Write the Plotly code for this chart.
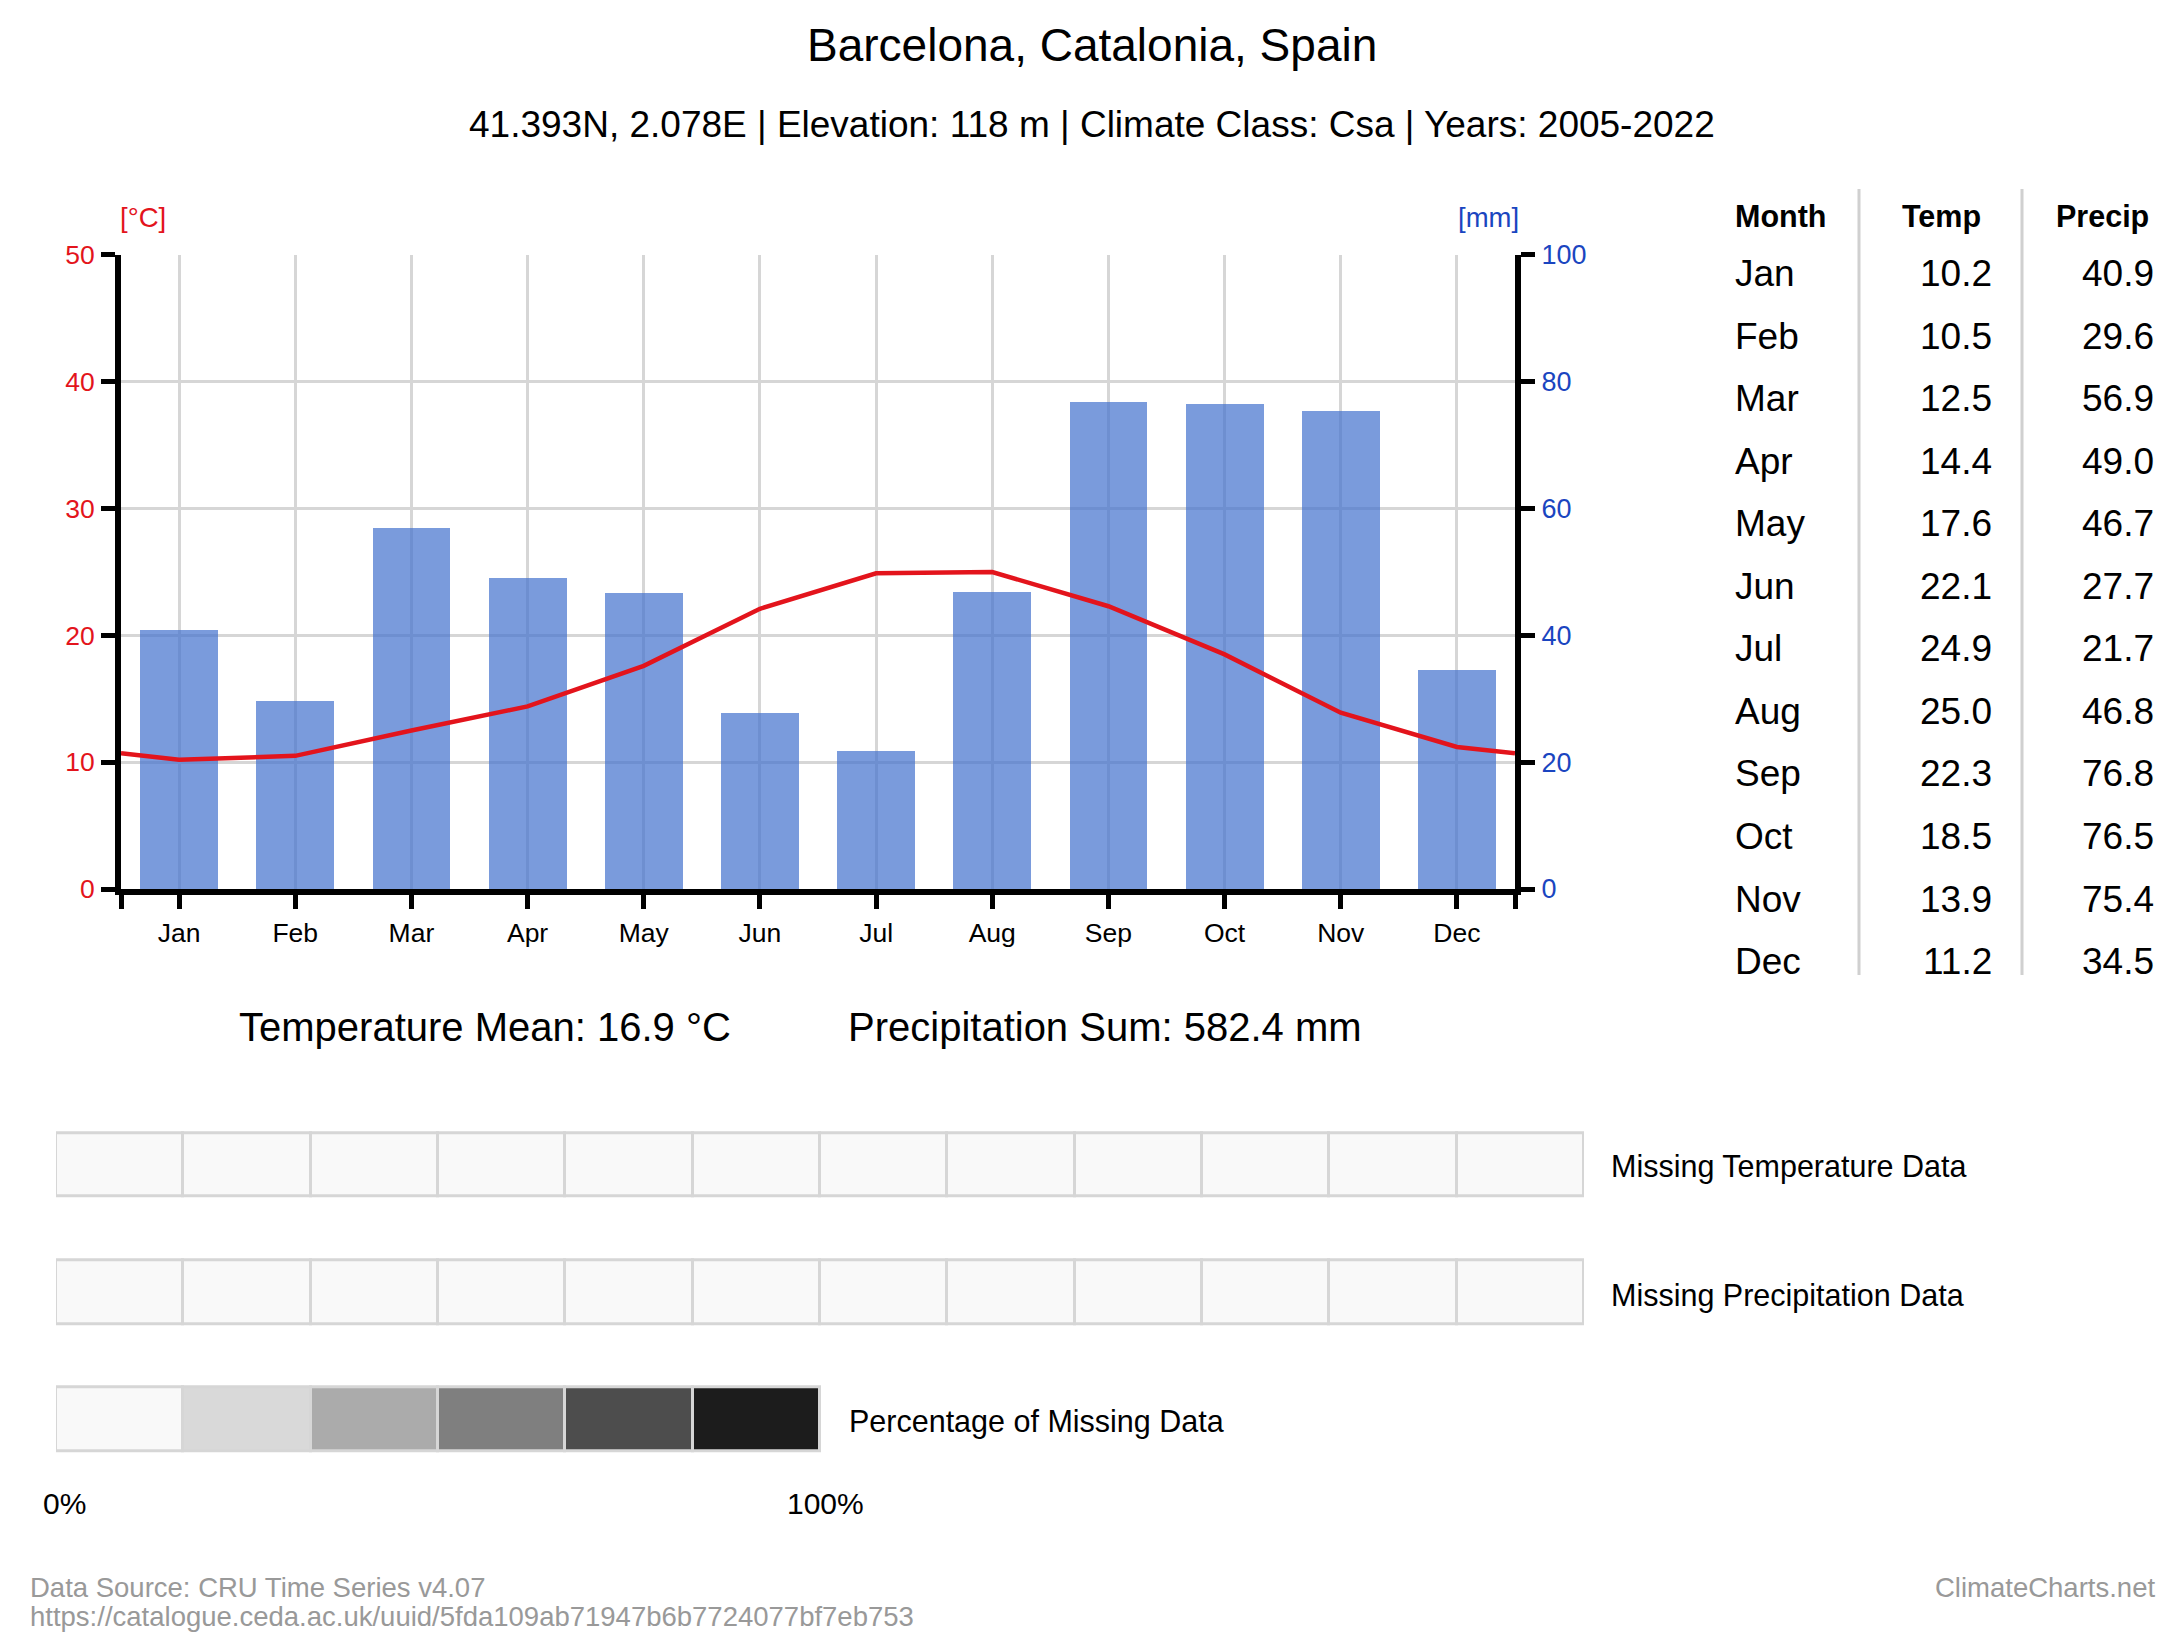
import plotly.graph_objects as go

# size of the page; the browser adds an 8px body margin round the figure
W, H = 2184, 1643
PAD = 8
FW, FH = W - 2 * PAD, H - 2 * PAD
# the photographed page comes out slightly squeezed vertically, undo that
Y0, YS = 57.1, 0.983

months = ['Jan', 'Feb', 'Mar', 'Apr', 'May', 'Jun', 'Jul', 'Aug', 'Sep', 'Oct', 'Nov', 'Dec']
temp = [10.2, 10.5, 12.5, 14.4, 17.6, 22.1, 24.9, 25.0, 22.3, 18.5, 13.9, 11.2]
precip = [40.9, 29.6, 56.9, 49.0, 46.7, 27.7, 21.7, 46.8, 76.8, 76.5, 75.4, 34.5]

missing_temp = [0, 0, 0, 0, 0, 0, 0, 0, 0, 0, 0, 0]
missing_precip = [0, 0, 0, 0, 0, 0, 0, 0, 0, 0, 0, 0]
missing_levels = [0, 20, 40, 60, 80, 100]
missing_colors = ['#f9f9f9', '#d9d9d9', '#ababab', '#7f7f7f', '#4d4d4d', '#1c1c1c']

temp_ticks = [0, 10, 20, 30, 40, 50]
precip_ticks = [0, 20, 40, 60, 80, 100]

title = 'Barcelona, Catalonia, Spain'
subtitle = '41.393N, 2.078E | Elevation: 118 m | Climate Class: Csa | Years: 2005-2022'
temp_mean_text = 'Temperature Mean: 16.9 °C'
precip_sum_text = 'Precipitation Sum: 582.4 mm'

FONT = 'Arial, Liberation Sans, sans-serif'
RED = '#e3141c'
BLUE = '#1a45c0'
GRID = '#d6d6d6'


def px(x):
    return (x - PAD) / FW


def py(y):
    s = 44 + (y - Y0) / YS
    return 1 - (s - PAD) / FH


def shade(p):
    # grey level for a missing-data percentage
    for lvl, col in zip(missing_levels, missing_colors):
        if p <= lvl:
            return col
    return missing_colors[-1]


fig = go.Figure()

# precipitation bars (right axis)
fig.add_trace(go.Bar(
    x=list(range(12)), y=precip, width=0.67,
    marker=dict(color='rgba(65,112,205,0.7)', line=dict(width=0)),
    xaxis='x', yaxis='y', showlegend=False))

# temperature line (left axis), wrapped to the plot edges
edge = (temp[0] + temp[-1]) / 2
fig.add_trace(go.Scatter(
    x=[-0.5] + list(range(12)) + [11.5], y=[edge] + temp + [edge],
    mode='lines', line=dict(color=RED, width=4.5),
    xaxis='x', yaxis='y3', showlegend=False))

# missing data cells
row_h = 0.5
for r, vals in enumerate([missing_temp, missing_precip]):
    fig.add_trace(go.Bar(
        x=[i + 0.5 for i in range(len(vals))], y=[row_h] * len(vals),
        base=[r - row_h / 2] * len(vals), width=1,
        marker=dict(color=[shade(v) for v in vals], line=dict(color=GRID, width=3)),
        xaxis='x2', yaxis='y2', showlegend=False))
fig.add_trace(go.Bar(
    x=[i + 0.5 for i in range(len(missing_levels))], y=[row_h] * len(missing_levels),
    base=[2 - row_h / 2] * len(missing_levels), width=1,
    marker=dict(color=missing_colors, line=dict(color=GRID, width=3)),
    xaxis='x2', yaxis='y2', showlegend=False))

tick_style = dict(showline=True, linecolor='black', linewidth=6,
                  ticks='outside', ticklen=14, tickwidth=5, tickcolor='black',
                  zeroline=False)

fig.update_layout(
    width=FW, height=FH,
    margin=dict(l=0, r=0, t=0, b=0),
    paper_bgcolor='white', plot_bgcolor='white',
    font=dict(family=FONT, color='black'),
    bargap=0, barmode='overlay',
    xaxis=dict(domain=[px(121), px(1515)], range=[-0.5, 11.5], anchor='y',
               tickvals=[-0.5] + list(range(12)) + [11.5], ticktext=[''] + months + [''],
               showgrid=True, gridcolor=GRID, gridwidth=3, ticklabelstandoff=1,
               tickfont=dict(size=26.5, color='black'), **tick_style),
    yaxis=dict(domain=[py(889), py(254)], range=[0, 100], side='right', anchor='x',
               tickvals=precip_ticks, showgrid=True, gridcolor=GRID, gridwidth=3,
               ticklabelstandoff=1, tickfont=dict(size=27, color=BLUE), **tick_style),
    yaxis3=dict(range=[0, 50], overlaying='y', side='left', anchor='x',
                tickvals=temp_ticks, showgrid=False, ticklabelstandoff=1,
                tickfont=dict(size=26.5, color=RED), **tick_style),
    xaxis2=dict(domain=[px(56), px(1584)], range=[0, 12], anchor='y2',
                visible=False, fixedrange=True),
    yaxis2=dict(domain=[py(1496.5), py(1088.5)], range=[2.6, -0.6], anchor='x2',
                visible=False, fixedrange=True),
)

ann = []


def text(x, y, s, size, color='black', xanchor='center', bold=False):
    ann.append(dict(x=px(x), y=py(y), xref='paper', yref='paper',
                    text=('<b>%s</b>' % s) if bold else s,
                    showarrow=False, xanchor=xanchor, yanchor='middle',
                    font=dict(size=size, color=color, family=FONT)))


text(1092, 44, title, 46)
text(1092, 123, subtitle, 37)
text(143, 216, '[°C]', 27.5, RED)
text(1488, 216, '[mm]', 27.5, BLUE)

# table of monthly values
text(1733, 215, 'Month', 30.5, xanchor='left', bold=True)
text(1983, 215, 'Temp', 30.5, xanchor='right', bold=True)
text(2151, 215, 'Precip', 30.5, xanchor='right', bold=True)
for i, m in enumerate(months):
    yy = 273 + 62.6 * i
    text(1733, yy, m, 37, xanchor='left')
    text(1994, yy, '%.1f' % temp[i], 37, xanchor='right')
    text(2156, yy, '%.1f' % precip[i], 37, xanchor='right')

text(485, 1027, temp_mean_text, 40)
text(1105, 1027, precip_sum_text, 40)

text(1609, 1167, 'Missing Temperature Data', 30.5, xanchor='left')
text(1609, 1296, 'Missing Precipitation Data', 30.5, xanchor='left')
text(847, 1422, 'Percentage of Missing Data', 30.5, xanchor='left')
text(64, 1504, '0%', 30)
text(825, 1504, '100%', 30)

text(28, 1589, 'Data Source: CRU Time Series v4.07', 27.5, '#999999', xanchor='left')
text(28, 1618, 'https://catalogue.ceda.ac.uk/uuid/5fda109ab71947b6b7724077bf7eb753', 27.5, '#999999', xanchor='left')
text(2157, 1589, 'ClimateCharts.net', 27.5, '#999999', xanchor='right')

fig.update_layout(annotations=ann)

# table column separators
for xs in [1859, 2022]:
    fig.add_shape(type='line', xref='paper', yref='paper', x0=px(xs), x1=px(xs), y0=py(188), y1=py(975),
                  line=dict(color='#d0d0d0', width=3))

fig.write_html("out.html")
